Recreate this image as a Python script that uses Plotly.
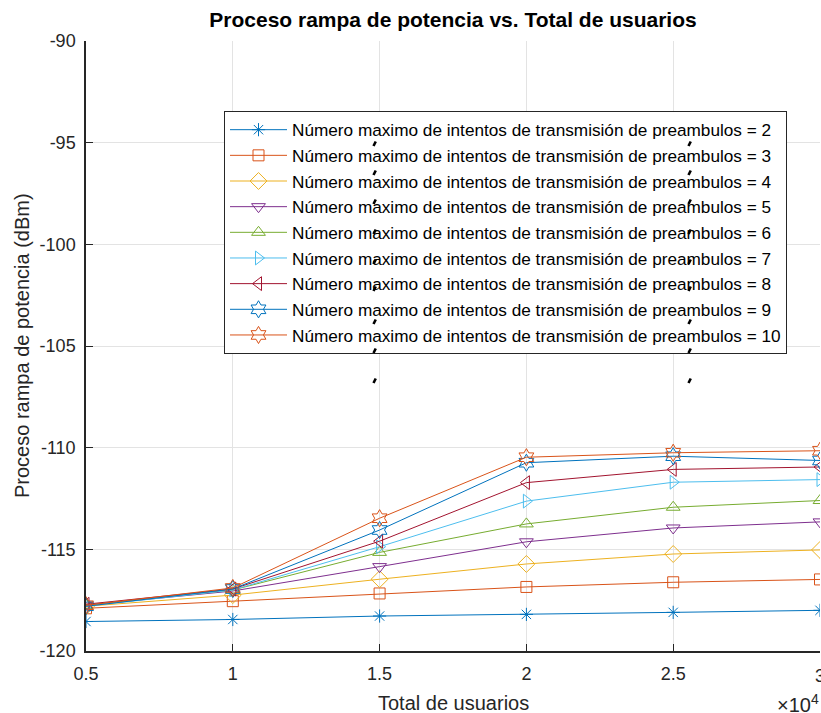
import plotly.graph_objects as go

# ---- data ----
usuarios = [5000, 10000, 15000, 20000, 25000, 30000]
p2 = [-118.55, -118.45, -118.28, -118.20, -118.10, -118.00]
p3 = [-117.90, -117.55, -117.17, -116.85, -116.62, -116.48]
p4 = [-117.80, -117.25, -116.47, -115.72, -115.23, -115.03]
p5 = [-117.75, -117.05, -115.85, -114.63, -113.95, -113.65]
p6 = [-117.75, -117.00, -115.15, -113.75, -112.93, -112.60]
p7 = [-117.80, -117.00, -114.87, -112.63, -111.70, -111.57]
p8 = [-117.70, -116.95, -114.60, -111.72, -111.07, -110.95]
p9 = [-117.80, -116.95, -114.05, -110.74, -110.42, -110.63]
p10 = [-117.75, -116.90, -113.47, -110.47, -110.25, -110.15]

series = [p2, p3, p4, p5, p6, p7, p8, p9, p10]
intentos = [2, 3, 4, 5, 6, 7, 8, 9, 10]
x_tickvals = [5000, 10000, 15000, 20000, 25000, 30000]
x_ticktext = ["0.5", "1", "1.5", "2", "2.5", "3"]
y_tickvals = [-120, -115, -110, -105, -100, -95, -90]
y_ticktext = ["-120", "-115", "-110", "-105", "-100", "-95", "-90"]

colors = ["#0072BD", "#D95319", "#EDB120", "#7E2F8E", "#77AC30",
          "#4DBEEE", "#A2142F", "#0072BD", "#D95319"]
symbols = ["asterisk-open", "square-open", "diamond-open", "triangle-down-open",
           "triangle-up-open", "triangle-right-open", "triangle-left-open",
           "hexagram-open", "hexagram-open"]
sizes = [11, 11, 13, 12, 12, 12, 12, 13, 13]

# stray accent glyph artefacts (pixel positions in the reference)
accent_x = [375, 690]
accent_y = [143, 172, 201, 231, 261, 288, 321, 350, 380]

FONT = "Liberation Sans, Arial, sans-serif"
W, H = 821, 713
ML, MR, MT, MB = 86, 1, 41, 62
PW, PH = W - ML - MR, H - MT - MB

fig = go.Figure()
for i, (vals, n) in enumerate(zip(series, intentos)):
    fig.add_trace(go.Scatter(
        x=usuarios, y=vals, mode="lines+markers",
        name=f"Número maximo de intentos de transmisión de preambulos = {n}",
        legendgroup=f"g{i}",
        line=dict(color=colors[i], width=1),
        marker=dict(symbol=symbols[i], size=sizes[i], color=colors[i],
                    line=dict(width=1, color=colors[i])),
    ))

def px2paper(px, py):
    return (px - ML) / PW, (H - MB - py) / PH

annotations = [
    dict(text="Total de usuarios", xref="paper", yref="paper",
         x=0.5, y=(H - MB - 703) / PH, xanchor="center", yanchor="middle",
         showarrow=False, font=dict(family=FONT, size=20, color="#262626")),
    dict(text="Proceso rampa de potencia (dBm)", xref="paper", yref="paper",
         x=(22 - ML) / PW, y=0.5, xanchor="center", yanchor="middle",
         textangle=-90, showarrow=False,
         font=dict(family=FONT, size=20, color="#262626")),
    dict(text="×10<sup>4</sup>", xref="paper", yref="paper",
         x=(775 - ML) / PW, y=(H - MB - 703) / PH, xanchor="left", yanchor="middle",
         showarrow=False, font=dict(family=FONT, size=20, color="#262626")),
    # last x tick label, partly cut by the window edge as in the reference
    dict(text=x_ticktext[-1], xref="x", yref="paper",
         x=x_tickvals[-1], y=(H - MB - 676) / PH, xanchor="center", yanchor="middle",
         showarrow=False, font=dict(family=FONT, size=18, color="#262626")),
]
# short thick slanted strokes (accent artefacts), drawn as headless arrows
for ax_ in accent_x:
    for ay in accent_y:
        xp, yp = px2paper(ax_ - 1.5, ay + 3)
        annotations.append(dict(text="", xref="paper", yref="paper",
                                x=xp, y=yp, showarrow=True, arrowhead=0,
                                arrowwidth=2.6, arrowcolor="black",
                                ax=3, ay=-6, standoff=0, startstandoff=0))

axis_common = dict(
    showline=True, linecolor="#262626", linewidth=1.5, mirror=False,
    showgrid=True, gridcolor="#e3e3e3", gridwidth=1,
    ticks="inside", ticklen=7, tickcolor="#262626", tickwidth=1,
    tickfont=dict(family=FONT, size=18, color="#262626"),
    zeroline=False,
)

fig.update_layout(
    width=W, height=H,
    margin=dict(l=ML, r=MR, t=MT, b=MB),
    paper_bgcolor="white", plot_bgcolor="white",
    title=dict(text="<b>Proceso rampa de potencia vs. Total de usuarios</b>",
               x=0.5, xref="paper", xanchor="center",
               y=1 - 20 / H, yref="container", yanchor="middle",
               font=dict(family=FONT, size=21, color="black")),
    xaxis=dict(range=[5000, 30000], tickvals=x_tickvals[:-1], ticktext=x_ticktext[:-1],
               ticklabelstandoff=6, **axis_common),
    yaxis=dict(range=[-120, -90], tickvals=y_tickvals, ticktext=y_ticktext,
               ticklabelstandoff=5, **axis_common),
    legend=dict(x=(224 - ML) / PW, y=(H - MB - 111) / PH,
                xanchor="left", yanchor="top",
                bgcolor="white", bordercolor="#262626", borderwidth=1,
                font=dict(family=FONT, size=17.2, color="black"),
                tracegroupgap=0.3, itemwidth=57),
    annotations=annotations,
)

fig.write_html("out.html")
